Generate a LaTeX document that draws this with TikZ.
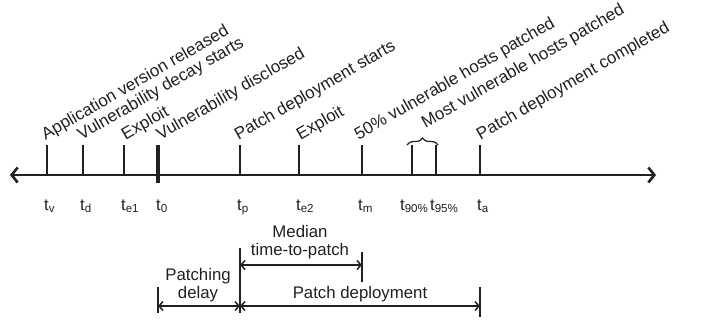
\documentclass[tikz,border=0pt]{standalone}
\usepackage{fontspec}
\setmainfont{Liberation Sans}
\usetikzlibrary{arrows.meta,decorations.pathreplacing}
\definecolor{ink}{RGB}{35,31,32}
\tikzset{
    time-axis/.style = {draw=ink, line width=2.6pt, {Straight Barb[length=6pt,width=15pt]}-{Straight Barb[length=6pt,width=15pt]}},
    tick-line/.style = {draw=ink, line width=1.5pt},
    thick-tick/.style = {draw=ink, line width=3.5pt},
    event-label/.style = {text=ink, rotate=30, anchor=south west, inner sep=1pt, font=\fontsize{17}{20}\selectfont},
    time-label/.style = {text=ink, anchor=base west, inner sep=0pt, font=\fontsize{16.5}{19}\selectfont},
    span-bar/.style = {draw=ink, line width=1.5pt},
    span-arrow/.style = {draw=ink, line width=1.5pt, {Straight Barb[length=4pt,width=9pt]}-{Straight Barb[length=4pt,width=9pt]}},
    span-label/.style = {text=ink, align=center, inner sep=0pt, font=\fontsize{16.8}{18.5}\selectfont},
    group-brace/.style = {draw=ink, line width=1.2pt, decorate, decoration={brace, amplitude=7pt}},
}
\begin{document}
\begin{tikzpicture}[x=1pt,y=1pt]
\useasboundingbox (0,0) rectangle (701,325);
\coordinate (left-end) at (10,150);
\coordinate (right-end) at (656,150);
\coordinate (tv) at (47,150);
\coordinate (td) at (83,150);
\coordinate (te1) at (124,150);
\coordinate (t0) at (158,150);
\coordinate (tp) at (240,150);
\coordinate (te2) at (299,150);
\coordinate (tm) at (362,150);
\coordinate (t90) at (412,150);
\coordinate (t95) at (436,150);
\coordinate (ta) at (480,150);
\draw[time-axis] (left-end) -- (right-end);

\draw[tick-line] (tv) -- ++(0,30) coordinate (tv-top);
\draw[tick-line] (td) -- ++(0,30) coordinate (td-top);
\draw[tick-line] (te1) -- ++(0,30) coordinate (te1-top);
\draw[thick-tick] ([yshift=-8pt]t0) -- ++(0,38) coordinate (t0-top);
\draw[tick-line] (tp) -- ++(0,30) coordinate (tp-top);
\draw[tick-line] (te2) -- ++(0,30) coordinate (te2-top);
\draw[tick-line] (tm) -- ++(0,30) coordinate (tm-top);
\draw[tick-line] (t90) -- ++(0,30) coordinate (t90-top);
\draw[tick-line] (t95) -- ++(0,30) coordinate (t95-top);
\draw[tick-line] (ta) -- ++(0,30) coordinate (ta-top);
\draw[group-brace] ([xshift=-5pt]t90-top) -- ([xshift=2pt]t95-top);
\coordinate (brace-tip) at (427,192);

\node[event-label] (tv-event) at (tv-top) {Application version released};
\node[event-label] (td-event) at (td-top) {Vulnerability decay starts};
\node[event-label] (te1-event) at ([xshift=3pt]te1-top) {Exploit};
\node[event-label] (t0-event) at ([xshift=4pt]t0-top) {Vulnerability disclosed};
\node[event-label] (tp-event) at (tp-top) {Patch deployment starts};
\node[event-label] (te2-event) at ([xshift=3pt]te2-top) {Exploit};
\node[event-label] (tm-event) at ([xshift=-2pt]tm-top) {50\% vulnerable hosts patched};
\node[event-label] (most-event) at (brace-tip) {Most vulnerable hosts patched};
\node[event-label] (ta-event) at ([xshift=2pt]ta-top) {Patch deployment completed};

\node[time-label] (tv-name) at ([xshift=-3pt,yshift=-35pt]tv) {t\textsubscript{v}};
\node[time-label] (td-name) at ([xshift=-3pt,yshift=-35pt]td) {t\textsubscript{d}};
\node[time-label] (te1-name) at ([xshift=-3pt,yshift=-35pt]te1) {t\textsubscript{e1}};
\node[time-label] (t0-name) at ([xshift=-2pt,yshift=-35pt]t0) {t\textsubscript{0}};
\node[time-label] (tp-name) at ([xshift=-3pt,yshift=-35pt]tp) {t\textsubscript{p}};
\node[time-label] (te2-name) at ([xshift=-3pt,yshift=-35pt]te2) {t\textsubscript{e2}};
\node[time-label] (tm-name) at ([xshift=-4pt,yshift=-35pt]tm) {t\textsubscript{m}};
\node[time-label] (t90-name) at ([xshift=-12pt,yshift=-35pt]t90) {t\textsubscript{90\%}};
\node[time-label] (t95-name) at ([xshift=-6pt,yshift=-35pt]t95) {t\textsubscript{95\%}};
\node[time-label] (ta-name) at ([xshift=-3pt,yshift=-35pt]ta) {t\textsubscript{a}};

\coordinate (t0-span) at (158,19);
\coordinate (tp-span) at (240,19);
\coordinate (ta-span) at (480,19);
\coordinate (tp-median) at (240,60);
\coordinate (tm-median) at (362,60);
\draw[span-bar] (240,77) -- (240,12);
\draw[span-bar] (362,73) -- (362,43);
\draw[span-bar] (158,38) -- (158,12);
\draw[span-bar] (480,38) -- (480,8);
\draw[span-arrow] (t0-span) -- (tp-span);
\draw[span-arrow] (tp-span) -- (ta-span);
\draw[span-arrow] (tp-median) -- (tm-median);
\node[span-label] (median-label) at (300,83) {Median\\time-to-patch};
\node[span-label] (delay-label) at (198,40) {Patching\\delay};
\node[span-label, anchor=base] (deployment-label) at (360,27) {Patch deployment};
\end{tikzpicture}
\end{document}
